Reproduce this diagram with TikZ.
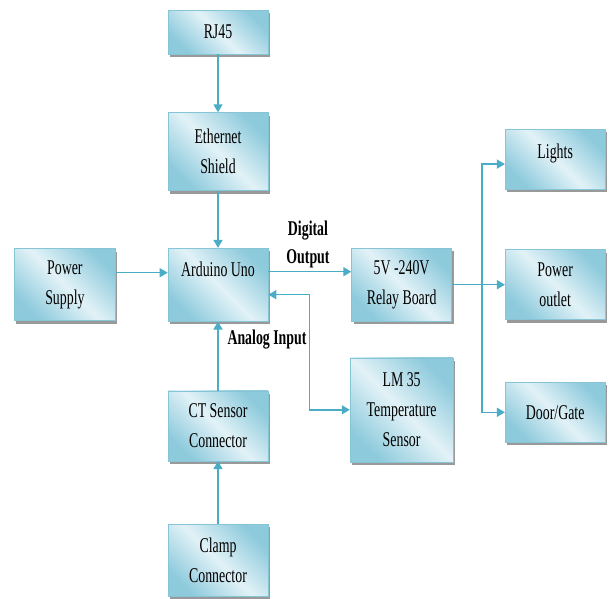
\documentclass[tikz,border=0pt]{standalone}
\usepackage{fontspec}
\setmainfont[FakeStretch=0.66]{Liberation Serif}
\usepackage{tikz}
\usetikzlibrary{shapes,arrows.meta,positioning,shadows,calc}
\definecolor{boxdark}{HTML}{8DCADC}
\definecolor{boxlight}{HTML}{E2F2F7}
\definecolor{boxline}{HTML}{86C4D6}
\definecolor{linkblue}{HTML}{4BACC6}

\begin{document}
\begin{tikzpicture}[
    x=1pt, y=1pt,
    node distance=57pt,
    block/.style={rectangle, draw=boxline, line width=0.6pt,
        shading=axis, left color=boxdark, right color=boxdark, middle color=boxlight, shading angle=135,
        drop shadow={shadow xshift=2pt, shadow yshift=-3pt, fill=black!40, opacity=1},
        minimum width=100pt, align=center, inner sep=2pt,
        font=\fontsize{21}{30}\selectfont},
    arrow/.style={draw=linkblue, line width=1.5pt, ->, >={Triangle[length=8pt,width=9pt]}},
    lbl/.style={align=center, font=\fontsize{21}{28}\selectfont\bfseries}
]
    \useasboundingbox (0,0) rectangle (611,-598);

    \node[block, minimum height=44pt] (rj) at (218,-32) {RJ45};
    \node[block, minimum height=78pt, below=58pt of rj] (eth) {Ethernet\\Shield};
    \node[block, minimum height=73pt, below=57pt of eth] (ard) {Arduino Uno\\\mbox{}};
    \node[block, minimum height=72pt, minimum width=101pt, left=52pt of ard] (ps) {Power\\Supply};
    \node[block, minimum height=73pt, right=83pt of ard] (relay) {5V -240V\\Relay Board};
    \node[block, minimum height=104pt, minimum width=103pt, below=36pt of relay] (lm35) {LM 35\\Temperature\\Sensor};
    \node[block, minimum height=70pt, right=53pt of relay] (outlet) {Power\\outlet};
    \node[block, minimum height=60pt, above=60pt of outlet] (lights) {Lights\\[-14pt]\mbox{}};
    \node[block, minimum height=60pt, below=62pt of outlet] (door) {Door/Gate};
    \node[block, minimum height=70pt, below=69pt of ard] (ct) {CT Sensor\\Connector};
    \node[block, minimum height=72pt, below=63pt of ct] (clamp) {Clamp\\Connector};

    \coordinate (fork) at ($(relay.east)+(30pt,0)$);

    \draw[arrow] (rj) -- (eth);
    \draw[arrow] (eth) -- (ard);
    \draw[arrow] ([yshift=12pt]ps.east) -- ([yshift=12pt]ps.east -| ard.west);
    \draw[arrow] ([yshift=13pt]ard.east) -- ([yshift=13pt]ard.east -| relay.west);
    \draw[arrow] (relay.east) -- (relay.east -| outlet.west);
    \draw[arrow] (fork) |- ([yshift=-5pt]lights.west);
    \draw[arrow] (fork) |- (door.west);
    \draw[arrow, <->] ([yshift=-10pt]ard.east) -- ++(41pt,0) |- (lm35.west);
    \draw[arrow] (ct) -- (ard);
    \draw[arrow] (clamp) -- (ct);

    \node[lbl] (digital) at (308,-244) {Digital\\Output};
    \node[lbl] (analog) at (267,-340) {Analog Input};
\end{tikzpicture}
\end{document}
